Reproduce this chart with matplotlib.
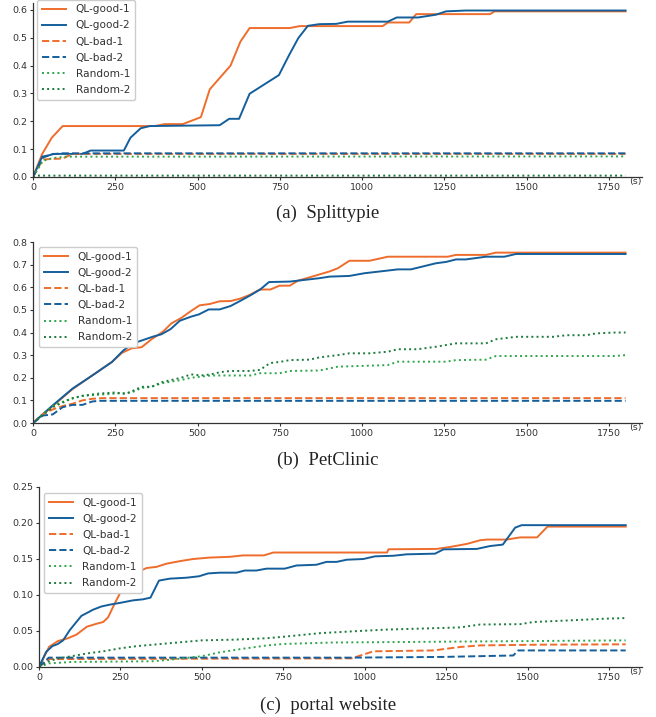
import matplotlib
matplotlib.use("Agg")
import matplotlib.pyplot as plt

# ---- data (time in s, value) ----
labels = ["QL-good-1", "QL-good-2", "QL-bad-1", "QL-bad-2", "Random-1", "Random-2"]
captions = ["(a)  Splittypie", "(b)  PetClinic", "(c)  portal website"]
x_ticks = [0, 250, 500, 750, 1000, 1250, 1500, 1750]

# (a) Splittypie
a_good1 = [(0, 0), (28, 0.083), (57, 0.141), (90, 0.183), (370, 0.183), (400, 0.19), (455, 0.19),
           (510, 0.215), (537, 0.315), (600, 0.40), (630, 0.486), (658, 0.535), (780, 0.535),
           (810, 0.542), (1062, 0.542), (1078, 0.555), (1143, 0.555), (1164, 0.585), (1388, 0.585),
           (1403, 0.595), (1800, 0.595)]
a_good2 = [(0, 0), (28, 0.073), (52, 0.079), (62, 0.083), (150, 0.083), (175, 0.095), (276, 0.095),
           (296, 0.141), (327, 0.175), (355, 0.183), (567, 0.186), (596, 0.209), (626, 0.209),
           (658, 0.299), (747, 0.366), (778, 0.438), (806, 0.499), (835, 0.543), (870, 0.549),
           (921, 0.55), (956, 0.558), (1078, 0.558), (1105, 0.573), (1170, 0.573), (1224, 0.583),
           (1255, 0.595), (1315, 0.598), (1800, 0.598)]
a_bad1 = [(0, 0), (30, 0.063), (60, 0.065), (90, 0.066), (120, 0.083), (1800, 0.083)]
a_bad2 = [(0, 0), (30, 0.07), (60, 0.082), (90, 0.085), (1800, 0.085)]
a_rand1 = [(0, 0), (30, 0.058), (60, 0.068), (100, 0.073), (1800, 0.074)]
a_rand2 = [(0, 0), (15, 0.005), (1800, 0.005)]

# (b) PetClinic
b_good1 = [(0, 0), (60, 0.075), (120, 0.15), (180, 0.21), (240, 0.27), (270, 0.31), (300, 0.33),
           (330, 0.335), (360, 0.37), (395, 0.404), (420, 0.44), (450, 0.464), (480, 0.495),
           (506, 0.52), (537, 0.526), (567, 0.538), (600, 0.539), (630, 0.55), (658, 0.566),
           (689, 0.59), (721, 0.59), (749, 0.607), (780, 0.607), (805, 0.629), (850, 0.648),
           (901, 0.67), (926, 0.684), (961, 0.717), (1022, 0.717), (1078, 0.735), (1260, 0.735),
           (1285, 0.743), (1376, 0.743), (1406, 0.753), (1800, 0.753)]
b_good2 = [(0, 0), (60, 0.078), (120, 0.152), (180, 0.21), (240, 0.27), (274, 0.32), (304, 0.352),
           (335, 0.367), (365, 0.382), (390, 0.392), (418, 0.415), (446, 0.452), (480, 0.47),
           (504, 0.48), (534, 0.502), (567, 0.502), (600, 0.517), (630, 0.54), (660, 0.564),
           (690, 0.59), (717, 0.623), (780, 0.625), (810, 0.63), (870, 0.64), (901, 0.647),
           (961, 0.65), (1007, 0.662), (1073, 0.673), (1108, 0.679), (1148, 0.679), (1224, 0.706),
           (1255, 0.712), (1285, 0.723), (1315, 0.723), (1376, 0.735), (1432, 0.735),
           (1467, 0.747), (1800, 0.747)]
b_bad1 = [(0, 0), (30, 0.04), (60, 0.06), (90, 0.075), (120, 0.085), (150, 0.1), (180, 0.107),
          (210, 0.11), (1800, 0.11)]
b_bad2 = [(0, 0), (30, 0.033), (60, 0.038), (90, 0.07), (120, 0.08), (150, 0.08), (180, 0.095),
          (200, 0.098), (1800, 0.098)]
b_rand1 = [(0, 0), (30, 0.04), (60, 0.075), (100, 0.1), (150, 0.12), (200, 0.125), (250, 0.13),
           (300, 0.135), (330, 0.155), (360, 0.16), (390, 0.175), (420, 0.183), (450, 0.19),
           (480, 0.2), (510, 0.205), (540, 0.21), (660, 0.21), (690, 0.22), (750, 0.22),
           (780, 0.23), (870, 0.232), (926, 0.249), (1078, 0.256), (1108, 0.271), (1255, 0.271),
           (1285, 0.278), (1376, 0.28), (1406, 0.296), (1768, 0.296), (1800, 0.30)]
b_rand2 = [(0, 0), (60, 0.07), (120, 0.11), (150, 0.12), (200, 0.13), (250, 0.135), (280, 0.128),
           (300, 0.14), (330, 0.16), (360, 0.16), (390, 0.18), (420, 0.19), (450, 0.2),
           (480, 0.215), (510, 0.21), (540, 0.215), (570, 0.225), (600, 0.23), (660, 0.23),
           (690, 0.235), (720, 0.265), (750, 0.27), (780, 0.278), (840, 0.28), (870, 0.29),
           (926, 0.30), (961, 0.308), (1022, 0.308), (1078, 0.315), (1108, 0.326), (1168, 0.326),
           (1224, 0.337), (1285, 0.352), (1376, 0.352), (1406, 0.37), (1467, 0.381),
           (1580, 0.381), (1620, 0.388), (1680, 0.388), (1710, 0.396), (1770, 0.40), (1800, 0.40)]

# (c) portal website
c_good1 = [(0, 0), (31, 0.028), (58, 0.036), (89, 0.04), (115, 0.045), (147, 0.056), (176, 0.06),
           (197, 0.0625), (212, 0.069), (232, 0.088), (248, 0.102), (278, 0.116), (304, 0.132),
           (330, 0.1375), (360, 0.139), (391, 0.1435), (432, 0.147), (473, 0.15), (524, 0.152),
           (585, 0.153), (626, 0.155), (690, 0.155), (719, 0.159), (1068, 0.159), (1072, 0.1635),
           (1220, 0.164), (1261, 0.1667), (1313, 0.171), (1353, 0.176), (1374, 0.177),
           (1435, 0.177), (1476, 0.18), (1528, 0.18), (1560, 0.195), (1800, 0.195)]
c_good2 = [(0, 0), (22, 0.021), (41, 0.029), (58, 0.032), (74, 0.037), (94, 0.051), (130, 0.071),
           (166, 0.0796), (191, 0.084), (217, 0.0866), (248, 0.089), (289, 0.0926), (319, 0.094),
           (342, 0.0963), (368, 0.12), (401, 0.1227), (452, 0.124), (491, 0.126), (519, 0.13),
           (555, 0.131), (606, 0.131), (631, 0.134), (667, 0.134), (698, 0.1366), (754, 0.1366),
           (790, 0.141), (851, 0.142), (882, 0.146), (913, 0.146), (944, 0.149), (995, 0.15),
           (1031, 0.1537), (1087, 0.1545), (1128, 0.1565), (1215, 0.1574), (1241, 0.1634),
           (1343, 0.164), (1384, 0.168), (1423, 0.17), (1461, 0.1936), (1481, 0.197), (1800, 0.197)]
c_bad1 = [(0, 0), (30, 0.011), (959, 0.012), (1026, 0.0218), (1210, 0.023), (1292, 0.0278),
          (1353, 0.030), (1538, 0.031), (1800, 0.0315)]
c_bad2 = [(0, 0), (30, 0.013), (950, 0.013), (1240, 0.014), (1455, 0.016), (1470, 0.023),
          (1800, 0.023)]
c_rand1 = [(0, 0), (30, 0.005), (100, 0.007), (350, 0.008), (400, 0.01), (500, 0.015), (550, 0.02),
           (620, 0.025), (700, 0.03), (750, 0.032), (900, 0.034), (1200, 0.035), (1500, 0.036),
           (1800, 0.037)]
c_rand2 = [(0, 0), (30, 0.008), (60, 0.012), (100, 0.015), (150, 0.019), (200, 0.022),
           (250, 0.026), (300, 0.029), (350, 0.031), (400, 0.033), (450, 0.035), (500, 0.037),
           (600, 0.038), (700, 0.040), (750, 0.042), (862, 0.047), (965, 0.0496), (1067, 0.052),
           (1220, 0.054), (1292, 0.055), (1353, 0.059), (1476, 0.0595), (1517, 0.0625),
           (1640, 0.065), (1732, 0.067), (1800, 0.068)]

# ---- style ----
orange = "#ef6d2c"
blue = "#145f9b"
green_l = "#2ca64a"
green_d = "#1b7a3e"
styles = [(orange, "-"), (blue, "-"), (orange, "--"), (blue, "--"), (green_l, ":"), (green_d, ":")]
txt = "#333333"

fig = plt.figure(figsize=(6.56, 7.17), dpi=100)
W, H = 656.0, 717.0

panels = [
    # series, (left, right, top, bottom) px, ylim, yticks, legend anchor, fmt, caption y
    ([a_good1, a_good2, a_bad1, a_bad2, a_rand1, a_rand2], (33, 642, 3, 177), (0, 0.625),
     [0, 0.1, 0.2, 0.3, 0.4, 0.5, 0.6], (0.007, 1.02), "{:.1f}", 213),
    ([b_good1, b_good2, b_bad1, b_bad2, b_rand1, b_rand2], (33, 642, 242, 423), (0, 0.8),
     [0, 0.1, 0.2, 0.3, 0.4, 0.5, 0.6, 0.7, 0.8], (0.01, 0.972), "{:.1f}", 460),
    ([c_good1, c_good2, c_bad1, c_bad2, c_rand1, c_rand2], (39, 642, 487, 667), (0, 0.25),
     [0, 0.05, 0.10, 0.15, 0.20, 0.25], (0.008, 0.967), "{:.2f}", 705),
]

for i, (series, (l, r, t, b), ylim, yticks, anchor, fmt, cap_y) in enumerate(panels):
    ax = fig.add_axes([l / W, 1 - b / H, (r - l) / W, (b - t) / H])
    for s, lab, (c, ls) in zip(series, labels, styles):
        xs = [p[0] for p in s]
        ys = [p[1] for p in s]
        ax.plot(xs, ys, color=c, linestyle=ls, linewidth=1.4, label=lab)
    ax.set_xlim(0, 1850)
    ax.set_ylim(*ylim)
    ax.set_xticks(x_ticks)
    ax.set_yticks(yticks)
    ax.set_yticklabels([fmt.format(v) for v in yticks])
    ax.tick_params(labelsize=6.8, colors=txt, length=2, width=0.8, pad=2)
    for sp in ["top", "right"]:
        ax.spines[sp].set_visible(False)
    for sp in ["left", "bottom"]:
        ax.spines[sp].set_color(txt)
        ax.spines[sp].set_linewidth(0.9)
    leg = ax.legend(loc="upper left", bbox_to_anchor=anchor, borderaxespad=0,
                    fontsize=7.6, handlelength=2.3, handletextpad=0.9, labelspacing=0.58,
                    borderpad=0.45, framealpha=1)
    leg.get_frame().set_edgecolor("#cccccc")
    for tx in leg.get_texts():
        tx.set_color(txt)
    ax.annotate("(s)", xy=(1.0, 0), xycoords="axes fraction", xytext=(0, -3.5),
                textcoords="offset points", ha="right", va="center", fontsize=6.8, color=txt)
    fig.text(0.5, 1 - cap_y / H, captions[i], ha="center", va="center",
             fontsize=13.5, family="Liberation Serif", color="#222222")

fig.savefig("out.png", dpi=100)
